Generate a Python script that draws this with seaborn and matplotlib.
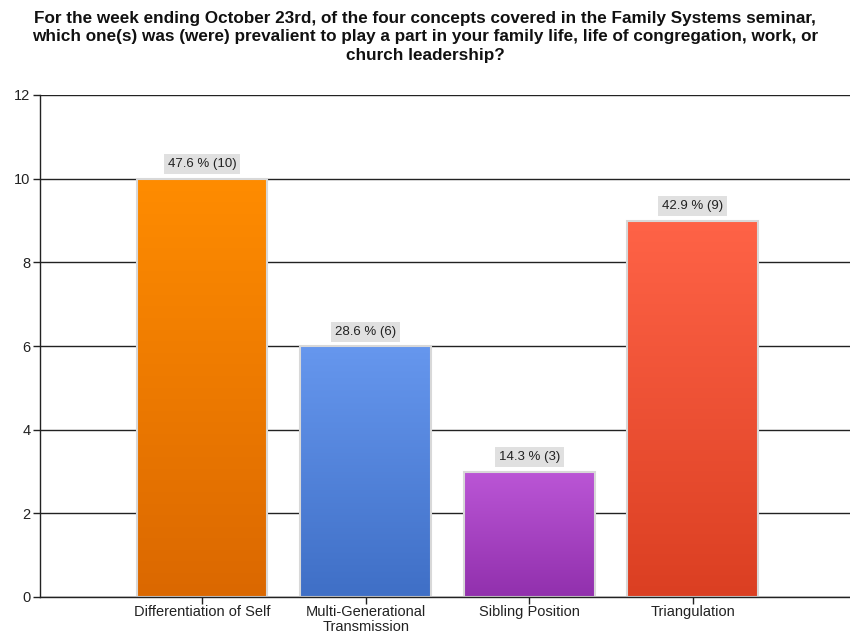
import numpy as np
import pandas as pd
import matplotlib
matplotlib.use("Agg")
import matplotlib.pyplot as plt
from matplotlib.colors import LinearSegmentedColormap
import seaborn as sns

# Survey responses per concept
concepts = ["Differentiation of Self", "Multi-Generational\nTransmission",
            "Sibling Position", "Triangulation"]
counts = [10, 6, 3, 9]
percents = [47.6, 28.6, 14.3, 42.9]
# gradient colours per bar (top, bottom)
top_colors = ["#ff8c00", "#6697ee", "#bb56d6", "#ff6347"]
bottom_colors = ["#db6800", "#3f6fc6", "#9130ad", "#db3f22"]

title = ("For the week ending October 23rd, of the four concepts covered in the Family Systems seminar,\n"
         "which one(s) was (were) prevalient to play a part in your family life, life of congregation, work, or\n"
         "church leadership?")

df = pd.DataFrame({"concept": concepts, "count": counts})

sns.set_theme(style="white")
plt.rcParams["font.family"] = ["Liberation Sans", "DejaVu Sans"]

fig = plt.figure(figsize=(8.5, 6.39), dpi=100)
ax = fig.add_axes([40 / 850, 1 - 597 / 639, 1 - 40 / 850, (597 - 95) / 639])

sns.barplot(data=df, x="concept", y="count", ax=ax, width=0.8,
            color="white", saturation=1, zorder=2)

ax.set_ylim(0, 12)
ax.set_xlim(-0.99, 3.96)
ax.set_yticks(range(0, 13, 2))

# horizontal grid lines behind the bars
for yv in range(0, 13, 2):
    ax.axhline(yv, color="#222222", lw=1.0, zorder=0)

# gradient fill clipped to each bar, light grey outline
for patch, ctop, cbot, pct, cnt in zip(ax.patches, top_colors, bottom_colors, percents, counts):
    x0, y0 = patch.get_x(), patch.get_y()
    w, h = patch.get_width(), patch.get_height()
    cmap = LinearSegmentedColormap.from_list("g", [cbot, ctop])
    grad = np.linspace(0, 1, 256).reshape(-1, 1)
    im = ax.imshow(grad, cmap=cmap, aspect="auto", origin="lower",
                   extent=[x0, x0 + w, y0, y0 + h], zorder=1.5)
    im.set_clip_path(patch)
    patch.set_facecolor("none")
    patch.set_edgecolor("#d8d8d8")
    patch.set_linewidth(1.5)
    ax.annotate(f"{pct} % ({cnt})", xy=(x0 + w / 2, y0 + h), xytext=(0, 6),
                textcoords="offset points", ha="center", va="bottom",
                fontsize=9.5, color="#222222",
                bbox=dict(boxstyle="square,pad=0.3", facecolor="#e0e0e0", edgecolor="none"))

ax.set_xlim(-0.99, 3.96)
ax.set_xlabel("")
ax.set_ylabel("")
for side in ["top", "right"]:
    ax.spines[side].set_visible(False)
for side in ["left", "bottom"]:
    ax.spines[side].set_color("#222222")
    ax.spines[side].set_linewidth(1.0)
    ax.spines[side].set_zorder(3)

ax.tick_params(axis="both", which="both", direction="out", length=5, width=1,
               color="#222222", labelsize=10.5, labelcolor="#222222", pad=2,
               left=True, bottom=True)
ax.tick_params(axis="x", pad=1)
for lab in ax.get_xticklabels():
    lab.set_linespacing(1.1)

fig.text(0.5, 1 - 37 / 639, title, ha="center", va="center", fontsize=12.3,
         fontweight="bold", color="#111111", linespacing=1.3)

fig.savefig("out.png", dpi=100)
